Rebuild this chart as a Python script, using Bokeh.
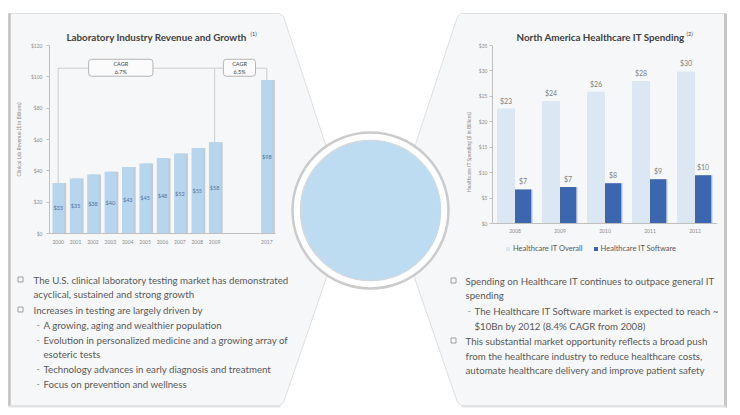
from bokeh.plotting import figure
from bokeh.models import (Range1d, FactorRange, ColumnDataSource, LabelSet, Legend, LegendItem,
                          GridBox, FixedTicker)
from bokeh.core.properties import value
from bokeh.transform import dodge
from bokeh.embed import file_html
from bokeh.resources import INLINE

FONT = "Lato"
TXT = "#595959"
AX = "#8c8c8c"

# ---------------- data ----------------
lab_years = ["2000", "2001", "2002", "2003", "2004", "2005", "2006", "2007", "2008", "2009", "2017"]
lab_values = [32.2, 35.1, 37.6, 39.4, 42.4, 44.7, 48.0, 51.0, 54.5, 58.2, 98.0]
lab_labels = ["$33", "$35", "$38", "$40", "$43", "$45", "$48", "$52", "$55", "$58", "$98"]
lab_ticks = [0, 20, 40, 60, 80, 100, 120]
lab_tick_labels = ["$0", "$20", "$40", "$60", "$80", "$100", "$120"]
cagr_labels = ["6.7%", "6.5%"]

hit_years = ["2008", "2009", "2010", "2011", "2012"]
hit_overall = [22.6, 24.1, 25.9, 28.0, 29.9]
hit_software = [6.7, 7.2, 7.9, 8.7, 9.5]
hit_overall_labels = ["$23", "$24", "$26", "$28", "$30"]
hit_software_labels = ["$7", "$7", "$8", "$9", "$10"]
hit_ticks = [0, 5, 10, 15, 20, 25, 30, 35]
hit_tick_labels = ["$0", "$5", "$10", "$15", "$20", "$25", "$30", "$35"]
hit_series = ["Healthcare IT Overall", "Healthcare IT Software"]

left_title = "Laboratory Industry Revenue and Growth"
right_title = "North America Healthcare IT Spending"
left_bullets = [
    ("sq", "The U.S. clinical laboratory testing market has demonstrated"),
    ("", "acyclical, sustained and strong growth"),
    ("sq", "Increases in testing are largely driven by"),
    ("dash", "A growing, aging and wealthier population"),
    ("dash", "Evolution in personalized medicine and a growing array of"),
    ("sub", "esoteric tests"),
    ("dash", "Technology advances in early diagnosis and treatment"),
    ("dash", "Focus on prevention and wellness"),
]
right_bullets = [
    ("sq", "Spending on Healthcare IT continues to outpace general IT"),
    ("", "spending"),
    ("dash", "The Healthcare IT Software market is expected to reach ~"),
    ("sub", "$10Bn by 2012 (8.4% CAGR from 2008)"),
    ("sq", "This substantial market opportunity reflects a broad push"),
    ("", "from the healthcare industry to reduce healthcare costs,"),
    ("", "automate healthcare delivery and improve patient safety"),
]

# ---------------- background canvas (page coords = reference pixels) ----------------
bg = figure(width=740, height=415, x_range=Range1d(0, 740), y_range=Range1d(415, 0),
            x_axis_type=None, y_axis_type=None, output_backend="svg", toolbar_location=None,
            min_border=0, outline_line_color=None, title=None)
bg.grid.visible = False
bg.background_fill_color = "white"
bg.border_fill_color = "white"

lp_x = [8, 279, 283, 326, 340, 340, 326, 283, 279, 8]
lp_y = [13, 13, 16, 147, 165, 255, 277, 402, 405, 405]
rp_x = [461, 725, 725, 461, 457, 414, 400, 400, 414, 457]
rp_y = [13, 13, 405, 405, 402, 277, 255, 165, 147, 16]
bg.patches(xs=[lp_x, rp_x], ys=[lp_y, rp_y], fill_color="#f6f7f8",
           line_color="#dedfe1", line_width=1)
bg.segment(x0=[9, 725], y0=[13, 13], x1=[9, 725], y1=[406, 407],
           line_color=["#c3c3c3", "#c6c6c6"], line_width=[2.5, 3])
bg.segment(x0=[8, 461], y0=[406, 406], x1=[280, 725], y1=[406, 406],
           line_color="#e3e3e3", line_width=2)

bg.circle(x=[370], y=[210], radius=78, fill_color="white", line_color="#cbcbcb", line_width=2.5)
bg.circle(x=[370], y=[210], radius=70, fill_color="#bddcf2", line_color="#cfd8e0", line_width=1.5)

bg.text(x=[66, 516], y=[36, 36], text=[left_title, right_title], text_font=value(FONT),
        text_font_style="bold", text_font_size="9.8px", text_color="#404040",
        text_baseline="middle", text_align="left")
bg.text(x=[250, 686], y=[33, 33], text=["(1)", "(2)"], text_font=value(FONT),
        text_font_size="5.5px", text_color="#404040", text_baseline="middle", text_align="left")


def bullets(items, x_sq, x_txt, x_dash, x_sub, ys):
    sq_x, sq_y, d_x, d_y, t_x, t_y, t = [], [], [], [], [], [], []
    for (kind, s), yy in zip(items, ys):
        if kind == "sq":
            sq_x.append(x_sq); sq_y.append(yy)
        if kind == "dash":
            d_x.append(x_dash); d_y.append(yy)
        t_x.append(x_sub if kind in ("dash", "sub") else x_txt)
        t_y.append(yy)
        t.append(s)
    bg.scatter(x=sq_x, y=sq_y, marker="square", size=5, fill_color=None,
               line_color="#8c8c8c", line_width=0.8)
    bg.text(x=d_x, y=d_y, text=["-"] * len(d_x), text_font=value(FONT),
            text_font_size="9px", text_color="#8c8c8c", text_baseline="middle")
    bg.text(x=t_x, y=t_y, text=t, text_font=value(FONT), text_font_size="9.7px",
            text_color=TXT, text_baseline="middle", text_align="left")


bullets(left_bullets, 20, 33, 36, 43, [279, 293, 309, 324, 339, 353, 368, 383])
bullets(right_bullets, 453, 465, 467, 474, [280, 294, 310, 325, 340, 355, 369])

# ---------------- left chart ----------------
lab_factors = lab_years[:10] + [" ", "  "] + lab_years[10:]
lab = figure(width=270, height=225, x_range=FactorRange(*lab_factors), y_range=Range1d(0, 120),
             output_backend="svg", toolbar_location=None, title=None,
             min_border_left=37, min_border_right=7, min_border_top=12, min_border_bottom=17)
lab.background_fill_alpha = 0
lab.border_fill_alpha = 0
lab.outline_line_color = None
lab.grid.visible = False

src = ColumnDataSource(dict(x=lab_years, top=lab_values,
                            mid=[v / 2 for v in lab_values], label=lab_labels))
lab.vbar(x=dodge("x", 0.13, range=lab.x_range), top="top", width=0.66, source=src,
         fill_color="#c5cad0", line_color=None)
lab.vbar(x="x", top="top", width=0.66, source=src, fill_color="#b6d5ee", line_color=None)
lab.add_layout(LabelSet(x="x", y="mid", text="label", source=src, text_align="center",
                        text_baseline="middle", text_font_size="5.5px", text_color="#4f74a0",
                        text_font=value(FONT)))

bracket_y = 105.5
lab.multi_line(xs=[[lab_years[0], lab_years[0], lab_years[9], lab_years[9]],
                   [lab_years[9], lab_years[10], lab_years[10]]],
               ys=[[lab_values[0], bracket_y, bracket_y, lab_values[9]],
                   [bracket_y, bracket_y, lab_values[10]]],
               line_color="#cccccc", line_width=1)
lab.quad(left=[2.25, 10.0], right=[5.95, 11.85], bottom=[100.4, 100.4], top=[111.2, 111.2],
         fill_color="#fbfbfb", line_color="#b5b5b5", line_width=1, border_radius=3)
lab.text(x=[4.1, 10.93, 4.1, 10.93], y=[108.3, 108.3, 103.4, 103.4],
         text=["CAGR", "CAGR"] + cagr_labels, text_font=value(FONT), text_font_size="5.5px",
         text_color="#404040", text_align="center", text_baseline="middle")

ya = lab.yaxis[0]
ya.ticker = FixedTicker(ticks=lab_ticks)
ya.major_label_overrides = dict(zip(lab_ticks, lab_tick_labels))
ya.axis_label = "Clinical Lab Revenue ($ in Billions)"
xa = lab.xaxis[0]
for ax in (ya, xa):
    ax.axis_line_color = "#bfbfbf"
    ax.major_tick_line_color = "#bfbfbf"
    ax.minor_tick_line_color = None
    ax.major_label_text_font = FONT
    ax.major_label_text_font_size = "5px"
    ax.major_label_text_color = AX
    ax.axis_label_text_font = FONT
    ax.axis_label_text_font_size = "5px"
    ax.axis_label_text_color = AX
    ax.axis_label_text_font_style = "normal"
ya.major_tick_in = 0
ya.major_tick_out = 3
ya.major_label_standoff = 4
ya.axis_label_standoff = 6
xa.major_tick_in = 0
xa.major_tick_out = 0
xa.major_label_standoff = 5

# ---------------- right chart ----------------
# frame spans ref y 45..258; value 0 sits at ref y 223, the legend below it inside the frame
hit_ymax = 35
hit_ymin = hit_ymax - 213 * hit_ymax / 178.0
hit = figure(width=267, height=248, x_range=FactorRange(*hit_years),
             y_range=Range1d(hit_ymin, hit_ymax),
             output_backend="svg", toolbar_location=None, title=None,
             min_border_left=37, min_border_right=5, min_border_top=20, min_border_bottom=15)
hit.background_fill_alpha = 0
hit.border_fill_alpha = 0
hit.outline_line_color = None
hit.grid.visible = False

hsrc = ColumnDataSource(dict(x=hit_years, ov=hit_overall, sw=hit_software,
                             ovl=hit_overall_labels, swl=hit_software_labels))
r_ov = hit.vbar(x=dodge("x", -0.2, range=hit.x_range), top="ov", width=0.4, source=hsrc,
                fill_color="#dbe7f2", line_color=None)
hit.vbar(x=dodge("x", 0.21, range=hit.x_range), top="sw", width=0.36, source=hsrc,
         fill_color="#c3c8cf", line_color=None)
r_sw = hit.vbar(x=dodge("x", 0.18, range=hit.x_range), top="sw", width=0.36, source=hsrc,
                fill_color="#3c66ad", line_color=None)
for xoff, fld, lbl in ((-0.2, "ov", "ovl"), (0.18, "sw", "swl")):
    hit.add_layout(LabelSet(x=dodge("x", xoff, range=hit.x_range), y=fld, text=lbl, source=hsrc,
                            y_offset=4, text_align="center", text_baseline="bottom",
                            text_font_size="7px", text_color="#7f7f7f", text_font=value(FONT)))

ya2 = hit.yaxis[0]
ya2.ticker = FixedTicker(ticks=hit_ticks)
ya2.major_label_overrides = dict(zip(hit_ticks, hit_tick_labels))
ya2.axis_label = "Healthcare IT Spending ($ in Billions)"
ya2.bounds = (0, hit_ymax)
xa2 = hit.xaxis[0]
xa2.fixed_location = 0
for ax in (ya2, xa2):
    ax.axis_line_color = "#bfbfbf"
    ax.major_tick_line_color = "#bfbfbf"
    ax.minor_tick_line_color = None
    ax.major_label_text_font = FONT
    ax.major_label_text_font_size = "5px"
    ax.major_label_text_color = AX
    ax.axis_label_text_font = FONT
    ax.axis_label_text_font_size = "5px"
    ax.axis_label_text_color = AX
    ax.axis_label_text_font_style = "normal"
ya2.major_tick_in = 0
ya2.major_tick_out = 3
ya2.major_label_standoff = 2
ya2.axis_label_standoff = 4
xa2.major_tick_in = 0
xa2.major_tick_out = 0
xa2.major_label_standoff = 5

legend = Legend(items=[LegendItem(label=hit_series[0], renderers=[r_ov]),
                       LegendItem(label=hit_series[1], renderers=[r_sw])],
                orientation="horizontal", location=(13, 5), margin=0, padding=0,
                spacing=10, glyph_width=5, glyph_height=5, label_height=8, label_standoff=3,
                label_text_font=FONT, label_text_font_size="7.5px", label_text_color=TXT,
                background_fill_alpha=0, border_line_color=None)
hit.add_layout(legend)

grid = GridBox(children=[(bg, 0, 0, 4, 5), (lab, 1, 1, 1, 1), (hit, 1, 3, 2, 1)],
               rows=["25px", "225px", "23px", "142px"],
               cols=["12px", "270px", "173px", "267px", "18px"])

open("out.html", "w").write(file_html(grid, INLINE))
